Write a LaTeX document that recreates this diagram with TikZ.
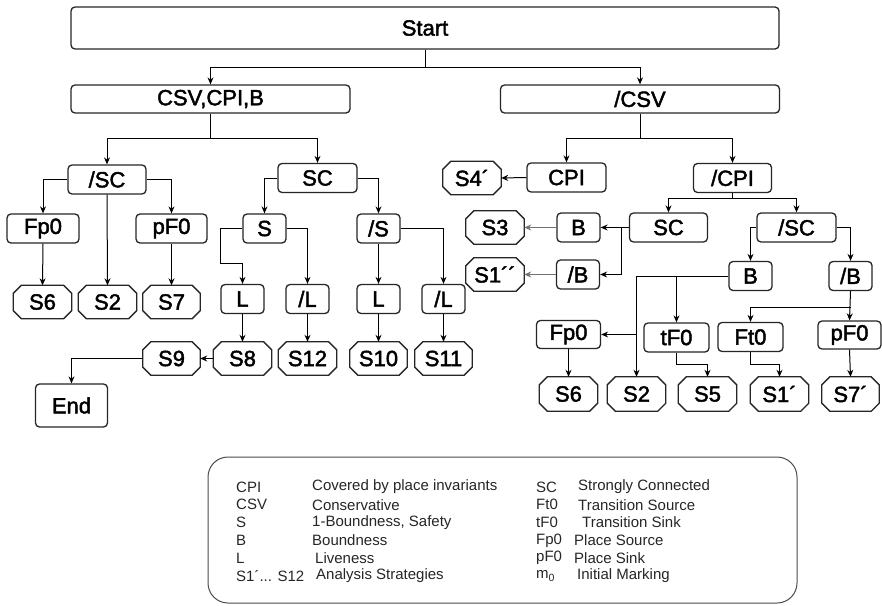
\documentclass[tikz,border=0pt]{standalone}
\usepackage{fontspec}
\setmainfont{Liberation Sans}
\newfontfamily\nodefont{Liberation Sans}[RawFeature={embolden=2}]
\usetikzlibrary{arrows.meta}
% outline of an eight-sided strategy node, drawn around a named node
\newcommand\octframe[1]{%
  \draw[octline] ([xshift=8pt]#1.north west) -- ([xshift=-8pt]#1.north east)
    -- ([yshift=-8pt]#1.north east) -- ([yshift=8pt]#1.south east)
    -- ([xshift=-8pt]#1.south east) -- ([xshift=8pt]#1.south west)
    -- ([yshift=8pt]#1.south west) -- ([yshift=-8pt]#1.north west) -- cycle;}
\begin{document}
\begin{tikzpicture}[x=1pt,y=-1pt,
  box/.style={draw=black!85, line width=1.3pt, rounded corners=4pt,
    minimum height=29pt, inner sep=0pt, font=\nodefont\fontsize{22}{26}\selectfont},
  oct/.style={minimum height=33pt, minimum width=58pt, inner sep=0pt,
    font=\nodefont\fontsize{22}{26}\selectfont},
  octline/.style={draw=black!85, line width=1.3pt},
  arr/.style={line width=1pt, -{Stealth[length=7pt,width=6pt]}},
  grayarr/.style={arr, draw=black!55, fill=black!55},
  legend/.style={anchor=west, inner sep=0pt, text=black!85,
    font=\fontsize{15}{18}\selectfont}]
\fill[white] (0,0) rectangle (882,605);
\useasboundingbox (0,0) rectangle (882,605);

% ---------- top levels ----------
\node[box, minimum width=708pt, minimum height=42pt] (start) at (425,28) {Start};
\node[box, minimum width=279pt, minimum height=28pt] (csv) at (210.5,99) {CSV,CPI,B};
\node[box, minimum width=279pt, minimum height=28pt] (ncsv) at (640,99) {/CSV};

% ---------- left subtree ----------
\node[box, minimum width=78pt] (lnsc) at (107,179.5) {/SC};
\node[box, minimum width=79pt] (lsc) at (317.5,178) {SC};
\node[box, minimum width=72pt] (lfp) at (43,228.5) {Fp0};
\node[box, minimum width=71pt] (lpf) at (171.5,228.5) {pF0};
\node[box, minimum width=43pt] (ls) at (264.5,228.5) {S};
\node[box, minimum width=43pt] (lns) at (378.5,228.5) {/S};
\node[box, minimum width=43pt] (ll) at (242.5,299) {L};
\node[box, minimum width=43pt] (lnl) at (307.5,299) {/L};
\node[box, minimum width=43pt] (lla) at (378.5,299) {L};
\node[box, minimum width=43pt] (lnla) at (443.5,299) {/L};

\node[oct] (s6) at (42.5,302) {S6};
\node[oct] (s2) at (107.5,302) {S2};
\node[oct, minimum width=57pt] (s7) at (171.5,302) {S7};
\node[oct, minimum width=57pt] (s9) at (171.5,358.5) {S9};
\node[oct] (s8) at (242.5,358.5) {S8};
\node[oct] (s12) at (307.5,358.5) {S12};
\node[oct, minimum width=57pt] (s10) at (378.5,358.5) {S10};
\node[oct, minimum width=57pt] (s11) at (443.5,358.5) {S11};
\node[box, minimum width=72pt, minimum height=43pt] (endn) at (71.5,405.5) {End};

% ---------- right subtree ----------
\node[box, minimum width=79pt] (cpi) at (566.5,177.5) {CPI};
\node[box, minimum width=78pt] (ncpi) at (732.5,178) {/CPI};
\node[oct] (s4p) at (472,178) {S4´};
\node[box, minimum width=78pt] (rsc) at (668.5,227.5) {SC};
\node[box, minimum width=79pt] (rnsc) at (796.5,227.5) {/SC};
\node[box, minimum width=43pt] (rb) at (578.5,227.5) {B};
\node[box, minimum width=43pt] (rnb) at (578,274.5) {/B};
\node[oct] (s3) at (495,227.5) {S3};
\node[oct] (s1pp) at (495,274.5) {S1´´};
\node[box, minimum width=43pt] (rbb) at (750.5,276) {B};
\node[box, minimum width=43pt] (rnbb) at (850.5,276) {/B};
\node[box, minimum width=64pt, minimum height=28pt] (rfp) at (568.5,334.5) {Fp0};
\node[box, minimum width=65pt] (rtf) at (676.5,337.5) {tF0};
\node[box, minimum width=65pt] (rft) at (750.5,337) {Ft0};
\node[box, minimum width=63pt, minimum height=28pt] (rpf) at (849.5,335) {pF0};
\node[oct, minimum height=34pt] (r6) at (568.5,394) {S6};
\node[oct, minimum height=34pt] (r2) at (636.5,394) {S2};
\node[oct, minimum height=34pt] (r5) at (707.5,394) {S5};
\node[oct, minimum height=34pt] (r1p) at (779.5,394) {S1´};
\node[oct, minimum height=34pt, minimum width=57pt] (r7p) at (850.5,394) {S7´};

\foreach \n in {s6,s2,s7,s9,s8,s12,s10,s11,s4p,s3,s1pp,r6,r2,r5,r1p,r7p}
  {\octframe{\n}}

% ---------- connectors ----------
\coordinate (j0) at (425,67.5);
\draw[arr] (start.south) -- (j0) -| (csv.north);
\draw[arr] (j0) -| (ncsv.north);

\coordinate (j1) at (210.5,138.5);
\draw[arr] (csv.south) -- (j1) -| (lnsc.north);
\draw[arr] (j1) -| (lsc.north);

\coordinate (j2) at (640,138.5);
\draw[arr] (ncsv.south) -- (j2) -| (cpi.north);
\draw[arr] (j2) -| (ncpi.north);

\draw[arr] (lnsc.west) -| (lfp.north);
\draw[arr] (lnsc.east) -| (lpf.north);
\draw[arr] (lnsc.south) -- (s2.north);
\draw[arr] (lfp.south) -- (s6.north);
\draw[arr] (lpf.south) -- (s7.north);

\draw[arr] (lsc.west) -| (ls.north);
\draw[arr] (lsc.east) -| (lns.north);

\coordinate (js) at (220.5,263.5);
\draw[arr] (ls.west) -| (js) -| (ll.north);
\draw[arr] (ls.east) -| (lnl.north);
\draw[arr] (lns.south) -- (lla.north);
\draw[arr] (lns.east) -| (lnla.north);

\draw[arr] (ll.south) -- (s8.north);
\draw[arr] (lnl.south) -- (s12.north);
\draw[arr] (lla.south) -- (s10.north);
\draw[arr] (lnla.south) -- (s11.north);
\draw[arr] (s8.west) -- (s9.east);
\draw[arr] (s9.west) -| (endn.north);

\draw[arr] (cpi.west) -- (s4p.east);

\coordinate (j3) at (732.5,198.5);
\draw[arr] (ncpi.south) -- (j3) -| (rsc.north);
\draw[arr] (j3) -| (rnsc.north);

\coordinate (j4) at (621.5,227.5);
\draw[arr] (rsc.west) -- (rb.east);
\draw[arr] (j4) |- (rnb.east);
\draw[grayarr] (rb.west) -- (s3.east);
\draw[grayarr] (rnb.west) -- (s1pp.east);

\draw[arr] (rnsc.west) -| (rbb.north);
\draw[arr] (rnsc.east) -| (rnbb.north);

\coordinate (j5) at (676.5,276);
\coordinate (j6) at (636.5,334.5);
\draw[arr] (rbb.west) -| (r2.north);
\draw[arr] (j5) -- (rtf.north);
\draw[arr] (j6) -- (rfp.east);
\draw[arr] (rfp.south) -- (r6.north);

\draw[arr] (rtf.south) -- ++(0,12) -| (r5.north);
\draw[arr] (rft.south) -- ++(0,12) -| (r1p.north);

\coordinate (j7) at (850.5,307.5);
\draw[arr] (rnbb.south) -- (rpf.north);
\draw[arr] (j7) -| (rft.north);
\draw[arr] (rpf.south) -- (r7p.north);

% ---------- legend ----------
\node[draw=black!70, line width=1pt, rounded corners=20pt,
  minimum width=589pt, minimum height=146pt] (legendbox) at (502.5,530) {};
\node[legend] (k1) at (236,487) {CPI};
\node[legend] (k2) at (236,504.8) {CSV};
\node[legend] (k3) at (236,522.6) {S};
\node[legend] (k4) at (236,540.4) {B};
\node[legend] (k5) at (236,558.2) {L};
\node[legend] (k6) at (236,576) {S1´... S12};
\node[legend] (d1) at (312,487) {Covered by place invariants};
\node[legend] (d2) at (312,504.8) {Conservative};
\node[legend] (d3) at (312,522.6) {1-Boundness, Safety};
\node[legend] (d4) at (312,540.4) {Boundness};
\node[legend] (d5) at (315,558.2) {Liveness};
\node[legend] (d6) at (316,576) {Analysis Strategies};
\node[legend] (k7) at (536,487) {SC};
\node[legend] (k8) at (536,504.8) {Ft0};
\node[legend] (k9) at (536,522.6) {tF0};
\node[legend] (k10) at (536,540.4) {Fp0};
\node[legend] (k11) at (536,558.2) {pF0};
\node[legend] (k12) at (536,576) {m\textsubscript{0}};
\node[legend] (e1) at (578,487) {Strongly Connected};
\node[legend] (e2) at (578,504.8) {Transition Source};
\node[legend] (e3) at (582,522.6) {Transition Sink};
\node[legend] (e4) at (574,540.4) {Place Source};
\node[legend] (e5) at (574,558.2) {Place Sink};
\node[legend] (e6) at (577,576) {Initial Marking};
\end{tikzpicture}
\end{document}
